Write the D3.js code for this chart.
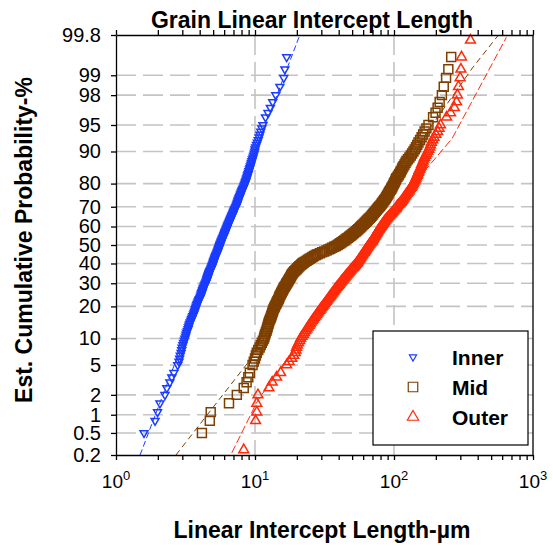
<!DOCTYPE html>
<html><head><meta charset="utf-8">
<script src="https://cdn.jsdelivr.net/npm/d3@7"></script>
<style>body{margin:0;background:#fff} svg{display:block} text{font-family:"Liberation Sans",Arial,sans-serif}</style>
</head><body><svg id="c" width="553" height="546"></svg>
<script>
// ---------- data ----------
// estimated cumulative probability (%) of each plotted point
const probs=[0.25,0.5,0.8,1.1,1.5,2,2.5,3,3.5,4,5,6,7,8,9,
10,11,12,13,14,15,16,17,18,19,20,21,22,23,24,25,26,27,28,29,30,31,32,33,34,35,36,37,38,39,40,
41,42,43,44,45,46,47,48,49,50,51,52,53,54,55,56,57,58,59,60,61,62,63,64,65,66,67,68,69,70,
71,72,73,74,75,76,77,78,79,80,81,82,83,84,85,86,87,88,89,90,
91,92,93,94,95,96,96.5,97,97.5,98,98.5,98.9,99.2,99.5,99.75];
// linear intercept length (µm) at each probability above
const inner=[null,1.59,1.91,1.99,2.07,2.25,2.32,2.44,2.52,2.61,2.78,2.87,2.94,2.99,3.06,
3.13,3.19,3.26,3.32,3.38,3.46,3.53,3.61,3.67,3.72,3.78,3.84,3.91,3.98,4.06,4.11,4.16,4.21,4.27,4.34,4.41,4.47,4.52,4.57,4.62,4.68,4.74,4.81,4.88,4.94,4.99,
5.04,5.10,5.16,5.22,5.29,5.36,5.42,5.48,5.54,5.60,5.66,5.73,5.80,5.88,5.96,6.03,6.10,6.18,6.26,6.33,6.41,6.50,6.59,6.68,6.78,6.88,6.97,7.07,7.18,7.30,
7.40,7.49,7.58,7.69,7.80,7.92,8.05,8.18,8.33,8.47,8.60,8.72,8.85,8.98,9.12,9.27,9.42,9.58,9.77,9.95,
10.1,10.4,10.7,11.0,11.4,11.9,12.4,12.9,13.4,14.1,15.1,16.1,16.4,16.9,null];
const mid=[null,4.15,4.73,4.80,6.5,7.4,8.3,8.7,8.95,9.18,9.6,10.0,10.3,10.8,11.2,
11.6,11.8,12.1,12.3,12.5,12.7,13.0,13.2,13.4,13.6,13.9,14.2,14.5,14.8,15.0,15.3,15.6,15.9,16.2,16.6,16.9,17.3,17.6,18.0,18.3,18.7,19.2,19.9,20.5,21.2,21.9,
22.9,24.1,25.3,26.6,28.2,30.4,32.7,34.8,37.1,39.3,41.1,43.0,44.8,46.7,48.6,50.4,52.5,54.4,56.2,58.0,59.9,61.8,63.8,65.8,68.0,69.9,71.8,73.9,76.0,78.3,
80.7,82.7,84.9,87.3,89.2,91.2,93.3,95.5,97.7,99.8,102,104,108,111,114,117,121,126,132,138,
144,150,158,166,177,191,199,206,213,221,228,237,246,258,null];
const outer=[8.3,null,10.1,10.3,10.3,10.5,12.6,13.3,14.3,15.3,16.9,18.4,19.5,19.9,20.6,
21.3,22.3,23.2,24.1,25.0,25.9,26.8,27.8,28.7,29.7,30.7,31.7,32.6,33.6,34.6,35.6,36.6,37.6,38.7,39.8,41.0,42.0,43.2,44.4,45.6,47.0,48.2,49.6,51.0,52.4,53.9,
55.0,56.1,57.3,58.5,59.7,61.0,62.2,63.4,64.8,66.2,67.7,69.2,70.5,71.8,73.2,74.5,75.9,77.2,78.9,80.8,82.5,84.3,86.2,88.5,91.2,93.9,96.7,99.7,103,105,
108,112,115,118,121,124,128,131,135,138,141,144,147,150,153,157,160,164,169,175,
181,186,194,206,216,239,255,272,282,286,291,299,303,306,355];
// second, denser set of points inside the solid part of each band
const probsB=[5.5,6.5,7.5,8.5,9.5,
10.5,11.5,12.5,13.5,14.5,15.5,16.5,17.5,18.5,19.5,
20.5,21.5,22.5,23.5,24.5,25.5,26.5,27.5,28.5,29.5,
30.5,31.5,32.5,33.5,34.5,35.5,36.5,37.5,38.5,39.5,
40.5,41.5,42.5,43.5,44.5,45.5,46.5,47.5,48.5,49.5,
50.5,51.5,52.5,53.5,54.5,55.5,56.5,57.5,58.5,59.5,
60.5,61.5,62.5,63.5,64.5,65.5,66.5,67.5,68.5,69.5,
70.5,71.5,72.5,73.5,74.5,75.5,76.5,77.5,78.5,79.5,
80.5,81.5,82.5,83.5,84.5,85.5,86.5,87.5,88.5,89.5,
90.5,91.5,92.5,93.5,94.5];
const innerB=[2.84,2.90,2.97,3.03,3.10,
3.17,3.22,3.30,3.35,3.42,3.50,3.57,3.64,3.70,3.75,
3.81,3.88,3.95,4.02,4.09,4.13,4.19,4.24,4.31,4.37,
4.44,4.50,4.55,4.60,4.65,4.71,4.78,4.85,4.91,4.97,
5.02,5.07,5.13,5.19,5.26,5.33,5.39,5.45,5.51,5.57,
5.63,5.70,5.77,5.84,5.92,6.00,6.07,6.14,6.22,6.30,
6.37,6.46,6.55,6.64,6.73,6.83,6.93,7.02,7.12,7.24,
7.35,7.45,7.54,7.63,7.75,7.86,7.98,8.11,8.26,8.40,
8.54,8.66,8.79,8.92,9.05,9.20,9.35,9.50,9.68,9.86,
10.0,10.25,10.55,10.85,11.2];
const midB=[9.8,10.15,10.55,11.0,11.4,
11.7,11.95,12.2,12.4,12.6,12.85,13.1,13.3,13.5,13.75,
14.05,14.35,14.65,14.9,15.15,15.45,15.75,16.05,16.4,16.75,
17.1,17.45,17.8,18.15,18.5,18.95,19.55,20.2,20.85,21.55,
22.4,23.5,24.7,25.9,27.4,29.3,31.5,33.8,35.9,38.2,
40.2,42.0,43.9,45.7,47.6,49.5,51.4,53.4,55.3,57.1,
58.9,60.8,62.8,64.8,66.9,69.0,70.8,72.8,74.9,77.1,
79.5,81.7,83.8,86.1,88.2,90.2,92.2,94.4,96.6,98.7,
101,103,106,109,112,115,119,123,129,135,
141,147,154,162,171];
const outerB=[17.6,19.0,19.7,20.2,21.0,
21.8,22.7,23.6,24.5,25.4,26.3,27.3,28.2,29.2,30.2,
31.2,32.1,33.1,34.1,35.1,36.1,37.1,38.1,39.2,40.4,
41.5,42.6,43.8,45.0,46.3,47.6,48.9,50.3,51.7,53.1,
54.4,55.5,56.7,57.9,59.1,60.3,61.6,62.8,64.1,65.5,
66.9,68.4,69.8,71.1,72.5,73.8,75.2,76.5,78.0,79.8,
81.6,83.4,85.2,87.3,89.8,92.5,95.3,98.2,101,104,
106,110,113,116,119,122,126,129,133,136,
139,142,145,148,151,155,158,162,166,172,
178,183,190,200,211];
// fitted reference lines: [length µm, probability %]
const innerFit=[[1.49,0.2],[21.0,99.8]];
const midFit=[[2.70,0.2],[9.44,6.07],[11.6,10],[16.9,30],[39.3,50],[78.3,70],[138,90],[367,99.24],[564,99.8]];
const outerFit=[[6.81,0.22],[10.5,1.68],[21.7,10.1],[69.1,50],[150,82],[262,92.8],[644,99.78]];
const probTicks=[99.8,99,98,95,90,80,70,60,50,40,30,20,10,5,2,1,0.5,0.2];
const probTickLabels=["99.8","99","98","95","90","80","70","60","50","40","30","20","10","5","2","1","0.5","0.2"];
const xExps=[0,1,2,3];
const seriesNames=["Inner","Mid","Outer"];
const seriesColors=["#1a3cff","#7d3f00","#ff2a0a"];

// ---------- helpers ----------
function probit(p){
  const a=[-3.969683028665376e+01,2.209460984245205e+02,-2.759285104469687e+02,1.383577518672690e+02,-3.066479806614716e+01,2.506628277459239e+00];
  const b=[-5.447609879822406e+01,1.615858368580409e+02,-1.556989798598866e+02,6.680131188771972e+01,-1.328068155288572e+01];
  const c=[-7.784894002430293e-03,-3.223964580411365e-01,-2.400758277161838e+00,-2.549732539343734e+00,4.374664141464968e+00,2.938163982698783e+00];
  const d=[7.784695709041462e-03,3.224671290700398e-01,2.445134137142996e+00,3.754408661907416e+00];
  const pl=0.02425;let q,r;
  if(p<pl){q=Math.sqrt(-2*Math.log(p));return (((((c[0]*q+c[1])*q+c[2])*q+c[3])*q+c[4])*q+c[5])/((((d[0]*q+d[1])*q+d[2])*q+d[3])*q+1);}
  if(p>1-pl){q=Math.sqrt(-2*Math.log(1-p));return -(((((c[0]*q+c[1])*q+c[2])*q+c[3])*q+c[4])*q+c[5])/((((d[0]*q+d[1])*q+d[2])*q+d[3])*q+1);}
  q=p-0.5;r=q*q;return (((((a[0]*r+a[1])*r+a[2])*r+a[3])*r+a[4])*r+a[5])*q/(((((b[0]*r+b[1])*r+b[2])*r+b[3])*r+b[4])*r+1);
}
const L=116,R=533,T=35,B=455;
const svg=d3.select("#c");
const x=d3.scaleLog().domain([1,1000]).range([L,R]);
const yZ=d3.scaleLinear().domain([probit(0.002),probit(0.998)]).range([B,T]);
const y=p=>yZ(probit(p/100));

svg.append("defs").append("clipPath").attr("id","clip").append("rect")
  .attr("x",L).attr("y",T).attr("width",R-L).attr("height",B-T);

// grid
const grid=svg.append("g").attr("stroke","#c4c4c4").attr("stroke-width",1.6).attr("stroke-dasharray","20,7");
probTicks.filter(p=>p!==99.8&&p!==0.2).forEach(p=>{
  grid.append("line").attr("x1",L).attr("x2",R).attr("y1",y(p)).attr("y2",y(p));
});
[10,100].forEach(v=>grid.append("line").attr("x1",x(v)).attr("x2",x(v)).attr("y1",T).attr("y2",B));

// fit lines
const line=d3.line().x(d=>x(d[0])).y(d=>y(d[1]));
const fits=[[innerFit,"6,3"],[midFit,"6,4"],[outerFit,"8,3"]];
const fg=svg.append("g").attr("clip-path","url(#clip)");
fits.forEach((f,i)=>fg.append("path").attr("d",line(f[0])).attr("fill","none")
  .attr("stroke",seriesColors[i]).attr("stroke-width",1).attr("stroke-dasharray",f[1]));

// markers
const tri=d3.symbol().type(d3.symbolTriangle);
const sq=d3.symbol().type(d3.symbolSquare);
const mk=[{s:tri.size(27)(),rot:180},{s:sq.size(80)(),rot:0},{s:tri.size(42)(),rot:0}];
const sets=[[inner,innerB],[mid,midB],[outer,outerB]];
sets.forEach((pair,si)=>{
  const g=svg.append("g");
  const pts=[];
  probs.forEach((p,i)=>{if(pair[0][i]!=null)pts.push([pair[0][i],p]);});
  probsB.forEach((p,i)=>{if(pair[1][i]!=null)pts.push([pair[1][i],p]);});
  pts.sort((a,b)=>a[1]-b[1]);
  g.selectAll("path").data(pts).join("path").attr("d",mk[si].s)
   .attr("transform",d=>`translate(${x(d[0])},${y(d[1])}) rotate(${mk[si].rot})`)
   .attr("fill","none").attr("stroke",seriesColors[si]).attr("stroke-width",1.5);
});

// axes
const xt=[];xExps.slice(0,3).forEach(e=>{for(let k=1;k<10;k++)xt.push(k*Math.pow(10,e));});xt.push(1000);
svg.append("g").attr("transform",`translate(0,${B})`)
  .call(d3.axisBottom(x).tickValues(xt).tickFormat("").tickSize(5).tickSizeOuter(0))
  .call(g=>g.selectAll("line,path").attr("stroke","#000").attr("stroke-width",1.3));
svg.append("g").attr("transform",`translate(0,${T})`)
  .call(d3.axisTop(x).tickValues(xt).tickFormat("").tickSize(5).tickSizeOuter(0))
  .call(g=>g.selectAll("line,path").attr("stroke","#000").attr("stroke-width",1.3));
svg.append("g").attr("transform",`translate(${L},0)`)
  .call(d3.axisLeft(yZ).tickValues(probTicks.map(p=>probit(p/100))).tickFormat((d,i)=>probTickLabels[i]).tickSize(5).tickSizeOuter(0).tickPadding(10))
  .call(g=>g.selectAll("line,path").attr("stroke","#000").attr("stroke-width",1.3))
  .call(g=>g.selectAll("text").attr("font-size",20).attr("fill","#000").attr("font-family","Liberation Sans,Arial,sans-serif"));
svg.append("line").attr("x1",R).attr("x2",R).attr("y1",T).attr("y2",B).attr("stroke","#000").attr("stroke-width",1.3);

// x tick labels 10^n
xExps.forEach(e=>{
  const t=svg.append("text").attr("x",x(Math.pow(10,e))).attr("y",488).attr("text-anchor","middle").attr("font-size",19);
  t.append("tspan").text("10");
  t.append("tspan").attr("font-size",13).attr("dy",-8).text(String(e));
});

// titles
svg.append("text").attr("x",312).attr("y",28).attr("text-anchor","middle").attr("font-size",23).attr("font-weight","bold").text("Grain Linear Intercept Length");
svg.append("text").attr("x",322).attr("y",538).attr("text-anchor","middle").attr("font-size",23).attr("font-weight","bold").text("Linear Intercept Length-µm");
svg.append("text").attr("transform","translate(32,240) rotate(-90)").attr("text-anchor","middle").attr("font-size",23).attr("font-weight","bold").text("Est. Cumulative Probability-%");

// legend
const lg=svg.append("g");
lg.append("rect").attr("x",373).attr("y",331).attr("width",155).attr("height",114).attr("fill","#fff").attr("stroke","#000").attr("stroke-width",1.2);
const lmk=[tri.size(22)(),sq.size(90)(),tri.size(55)()];
seriesNames.forEach((n,i)=>{
  const cy=357+i*30;
  lg.append("path").attr("d",lmk[i]).attr("transform",`translate(413,${cy}) rotate(${mk[i].rot})`)
    .attr("fill","none").attr("stroke",seriesColors[i]).attr("stroke-width",1.2);
  lg.append("text").attr("x",452).attr("y",cy+8).attr("font-size",21).attr("font-weight","bold").text(n);
});
</script></body></html>
